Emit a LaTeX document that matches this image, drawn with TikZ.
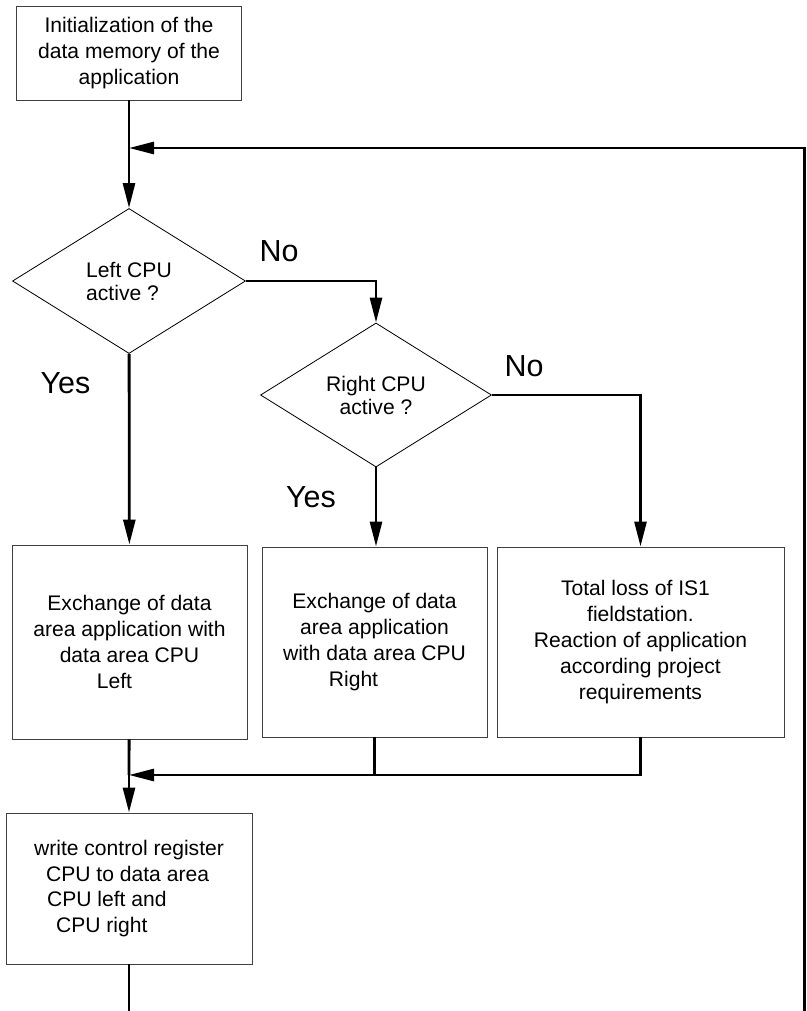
\documentclass[tikz,border=0pt]{standalone}
\usepackage{fontspec}
\setmainfont{Liberation Sans}
\usetikzlibrary{shapes.geometric,arrows.meta}
\tikzset{
    box/.style={draw=black!75, line width=0.8pt, inner sep=0pt, align=center,
        font=\fontsize{18pt}{22pt}\selectfont},
    decision/.style={diamond, draw, line width=0.7pt, inner sep=0pt,
        font=\fontsize{18pt}{19.6pt}\selectfont},
    conn/.style={line width=2.4pt},
    tip/.style={-{Triangle[length=0.75cm, width=0.36cm]}},
    lbl/.style={inner sep=0pt, font=\fontsize{26pt}{30pt}\selectfont}
}
\begin{document}
\begin{tikzpicture}[x=0.03cm, y=-0.03cm]
        \useasboundingbox (0,0) rectangle (806,1011);
        % Boxes and decisions
        \node [box, minimum width=6.75cm, minimum height=2.82cm] (init) at (129,53)
            {Initialization of the\\data memory of the\\application};
        \node [decision, minimum width=6.99cm, minimum height=4.35cm, align=left] (d1) at (129,281)
            {Left CPU\\active ?};
        \node [decision, minimum width=6.93cm, minimum height=4.32cm, align=center] (d2) at (376,395)
            {Right CPU\\active ?};
        \node [box, minimum width=7.05cm, minimum height=5.82cm] (exl) at (129.5,642)
            {Exchange of data\\area application with\\data area CPU\\Left\hspace*{0.9cm}};
        \node [box, minimum width=6.75cm, minimum height=5.7cm] (exr) at (374.5,642)
            {Exchange of data\\area application\\with data area CPU\\Right\hspace*{1.26cm}};
        \node [box, minimum width=8.61cm, minimum height=5.7cm] (loss) at (640.5,642)
            {Total loss of IS1\hspace*{0.3cm}\\fieldstation.\\Reaction of application\\according project\\requirements};
        \node [box, minimum width=7.38cm, minimum height=4.53cm, align=left] (wr) at (129,888.5)
            {write control register\\\hspace*{0.36cm}CPU to data area\\\hspace*{0.39cm}CPU left and\\\hspace*{0.66cm}CPU right};
        % Labels
        \node [lbl] (no1) at (279,251) {No};
        \node [lbl] (yes1) at (65.5,383.5) {Yes};
        \node [lbl] (no2) at (524,366.5) {No};
        \node [lbl] (yes2) at (311,497.5) {Yes};
        % Junctions
        \coordinate (join) at (129,148);
        \coordinate (merge) at (129,775);
        \coordinate (lb) at (129,1011);
        \coordinate (rb) at (804.5,1011);
        % Connectors
        \draw [conn] (init) -- (join);
        \draw [conn, tip] (join) -- (d1);
        \draw [conn, tip] (d1.east) -| (d2.north);
        \draw [conn, tip] (d1) -- (exl);
        \draw [conn, tip] (d2.south) -- (d2.south |- exr.north);
        \draw [conn, tip] (d2.east) -| (loss.north);
        \draw [conn] (exr.south) -- (exr.south |- merge);
        \draw [conn, tip] (loss.south) |- (merge);
        \draw [conn] (exl) -- (merge);
        \draw [conn, tip] (merge) -- (wr);
        \draw [conn] (wr) -- (lb);
        \draw [conn, tip] (rb) |- (join);
    \end{tikzpicture}
\end{document}
